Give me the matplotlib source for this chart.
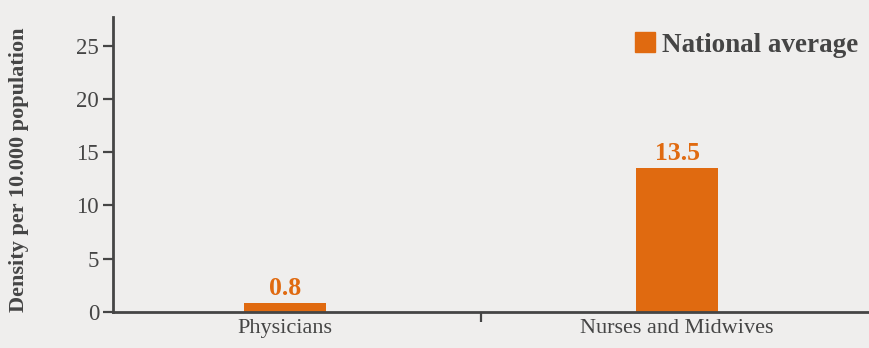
import matplotlib
matplotlib.use("Agg")
import matplotlib.pyplot as plt
from matplotlib.patches import Patch

categories = ["Physicians", "Nurses and Midwives"]
values = [0.8, 13.5]
value_labels = ["0.8", "13.5"]
y_ticks = [0, 5, 10, 15, 20, 25]
series_name = "National average"
y_label = "Density per 10.000 population"

orange = "#e06a10"
ink = "#454545"
bg = "#efeeed"

plt.rcParams["font.family"] = ["Liberation Serif", "DejaVu Serif"]

fig = plt.figure(figsize=(8.69, 3.48), dpi=100, facecolor=bg)
ax = fig.add_axes([0.130, 0.1034, 0.870, 0.848])
ax.set_facecolor(bg)

x = list(range(len(categories)))
ax.bar(x, values, width=0.21, color=orange, zorder=2)
for xi, v, lab in zip(x, values, value_labels):
    ax.text(xi, v + 0.3, lab, ha="center", va="bottom", color=orange,
            fontsize=18.5, fontweight="bold")

ax.set_xlim(-0.44, 1.49)
ax.set_ylim(0, 27.7)
ax.set_yticks(y_ticks)
ax.set_xticks([0.5])
ax.set_xticklabels([""])
ax.set_xticks(x, minor=True)
ax.set_xticklabels(categories, minor=True)
ax.tick_params(axis="x", which="minor", length=0, pad=5, labelsize=16, labelcolor=ink)
ax.tick_params(axis="x", which="major", direction="out", length=7, width=1.6, color=ink)
ax.tick_params(axis="y", direction="out", length=7, width=1.6, color=ink,
               labelsize=16.5, labelcolor=ink, pad=3)

for side in ["top", "right"]:
    ax.spines[side].set_visible(False)
for side in ["left", "bottom"]:
    ax.spines[side].set_color(ink)
    ax.spines[side].set_linewidth(2)

fig.text(19 / 869, 1 - 170 / 348, y_label, rotation=90, ha="center", va="center",
         fontsize=16, fontweight="bold", color=ink)

leg = ax.legend(handles=[Patch(color=orange, label=series_name)],
                loc="upper right", bbox_to_anchor=(1.0, 0.985), frameon=False,
                handlelength=0.75, handleheight=0.75, handletextpad=0.25,
                prop={"size": 19.5, "weight": "bold"}, borderaxespad=0.0)
for t in leg.get_texts():
    t.set_color(ink)

fig.savefig("out.png", dpi=100, facecolor=bg)
